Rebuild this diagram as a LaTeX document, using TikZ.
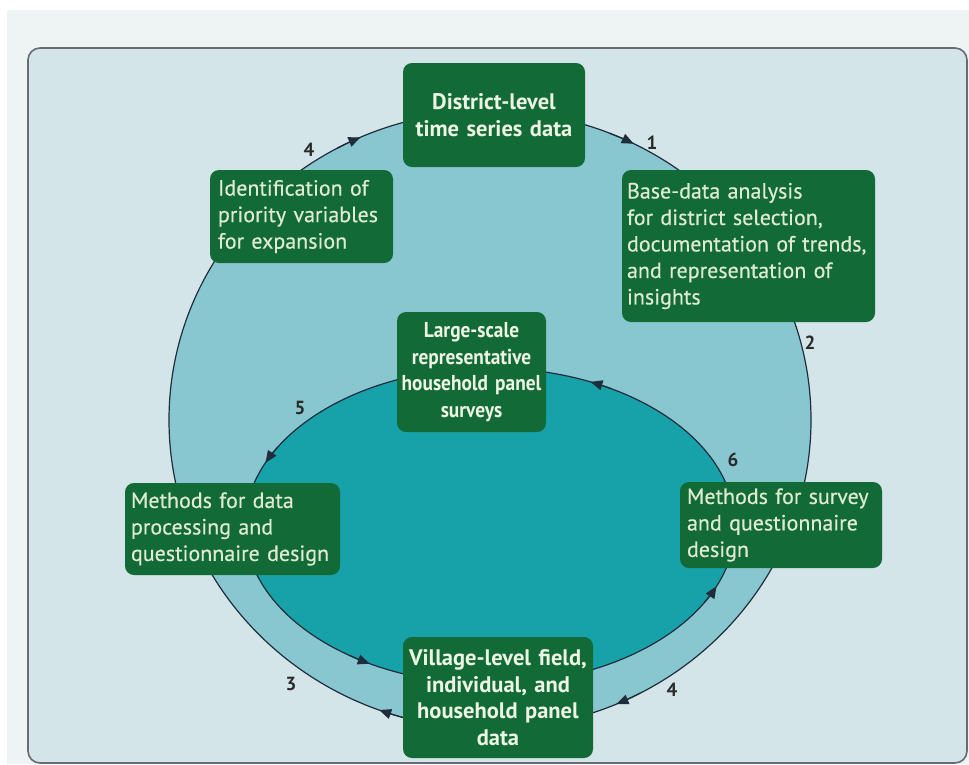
\documentclass[tikz,border=0pt]{standalone}
\usepackage{fontspec}
\setmainfont{PT Sans}
\newfontfamily\regfont{PT Sans}[FakeBold=0.35]
\newfontfamily\narrowfont{PT Sans}[FakeStretch=0.9]
\usetikzlibrary{arrows.meta}
\definecolor{bgcol}{HTML}{EDF4F3}
\definecolor{panelcol}{HTML}{D3E5E8}
\definecolor{panelline}{HTML}{676C70}
\definecolor{outercol}{HTML}{89C7D0}
\definecolor{innercol}{HTML}{17A2A9}
\definecolor{ellline}{HTML}{1F2D3D}
\definecolor{boxgreen}{HTML}{126B37}
\definecolor{boxtext}{HTML}{DFEBCF}
\definecolor{titletext}{HTML}{EEF4E4}
\definecolor{numcol}{HTML}{2A2A2A}
\tikzset{
  gbox/.style={fill=boxgreen, rounded corners=9pt, text=boxtext, inner xsep=8pt, inner ysep=4pt,
    font=\regfont\fontsize{22}{26.5}\selectfont, align=left},
  tbox/.style={gbox, align=center, text=titletext, font=\fontsize{22.5}{26.5}\selectfont\bfseries},
  ellbord/.style={draw=ellline, line width=1.2pt},
  arrowmark/.style={draw=ellline, line width=1.2pt, -{Triangle[length=12pt,width=10pt]}},
  numlab/.style={text=numcol, font=\fontsize{19}{22}\selectfont\bfseries, inner sep=0pt}
}
\begin{document}
\begin{tikzpicture}[x=1pt,y=-1pt]
\useasboundingbox (0,0) rectangle (969,764);
% background
\fill[bgcol] (0,0) rectangle (969,764);
\fill[white] (0,0) rectangle (969,10);
\fill[white] (0,0) rectangle (7,764);
% panel
\draw[fill=panelcol, draw=panelline, line width=1.6pt, rounded corners=12pt] (28,48) rectangle (967,763);
% ellipses
\draw[ellbord, fill=outercol] (490,420) ellipse [x radius=321, y radius=309];
\draw[ellbord, fill=innercol] (490,526) ellipse [x radius=245, y radius=158];
% outer arrowheads (clockwise)
\draw[arrowmark] (490,420) ++(241.5:321 and 309) arc[start angle=241.5, end angle=246.2, x radius=321, y radius=309];
\draw[arrowmark] (490,420) ++(291.9:321 and 309) arc[start angle=291.9, end angle=296.6, x radius=321, y radius=309];
\draw[arrowmark] (490,420) ++(62.1:321 and 309) arc[start angle=62.1, end angle=66.8, x radius=321, y radius=309];
\draw[arrowmark] (490,420) ++(105.5:321 and 309) arc[start angle=105.5, end angle=110.2, x radius=321, y radius=309];
% inner arrowheads (counter-clockwise)
\draw[arrowmark] (490,526) ++(299.5:245 and 158) arc[start angle=299.5, end angle=294.2, x radius=245, y radius=158];
\draw[arrowmark] (490,526) ++(210:245 and 158) arc[start angle=210, end angle=203.6, x radius=245, y radius=158];
\draw[arrowmark] (490,526) ++(125:245 and 158) arc[start angle=125, end angle=119.4, x radius=245, y radius=158];
\draw[arrowmark] (490,526) ++(29:245 and 158) arc[start angle=29, end angle=22.4, x radius=245, y radius=158];
% boxes
\node[tbox, text width=172pt, minimum height=104pt, inner xsep=5pt] (district) at (494,115) {District-level\\time series data};
\node[gbox, text width=167pt, minimum height=93pt] (ident) at (301.5,216.5) {Identification of\\priority variables\\for expansion};
\node[gbox, text width=243pt, minimum height=152pt, inner xsep=5pt] (base) at (748.5,246) {Base-data analysis\\for district selection,\\documentation of trends,\\and representation of\\insights};
\node[tbox, text width=148pt, minimum height=120pt, inner xsep=0.5pt, font=\narrowfont\fontsize{21.5}{26.5}\selectfont\bfseries] (large) at (471.5,372) {Large-scale\\representative\\household panel\\surveys};
\node[gbox, text width=203pt, minimum height=92pt, inner xsep=6pt] (mdata) at (232.5,529) {Methods for data\\processing and\\questionnaire design};
\node[gbox, text width=188pt, minimum height=86pt, inner xsep=7pt] (msurvey) at (781,525) {Methods for survey\\and questionnaire\\design};
\node[tbox, text width=182pt, minimum height=121pt, inner xsep=4pt] (village) at (498,697.5) {Village-level field,\\individual, and\\household panel\\data};
% step numbers
\node[numlab] (n4a) at (309,150) {4};
\node[numlab] (n1) at (652,143) {1};
\node[numlab] (n2) at (810,343) {2};
\node[numlab] (n5) at (300,408) {5};
\node[numlab] (n6) at (733,460) {6};
\node[numlab] (n3) at (291,684) {3};
\node[numlab] (n4b) at (672,690) {4};
\end{tikzpicture}
\end{document}
